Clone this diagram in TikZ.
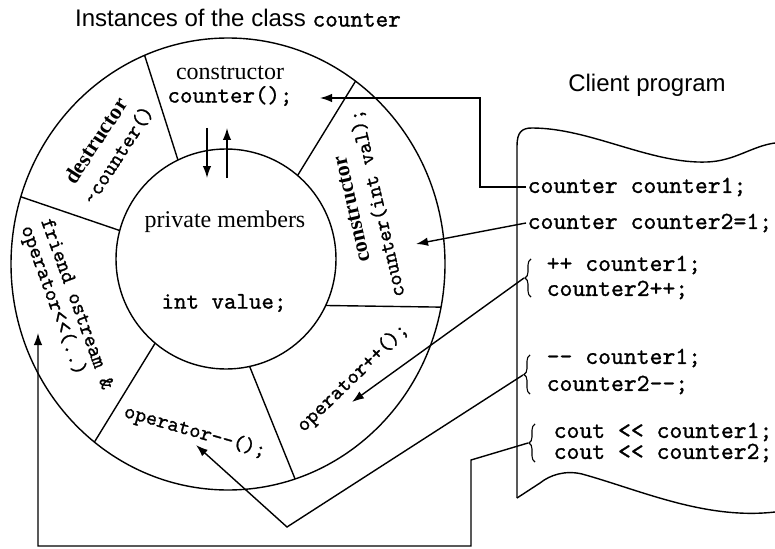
\documentclass[tikz,border=0pt]{standalone}
\usepackage{fontspec}
\setmainfont{Liberation Serif}
\setsansfont{Liberation Sans}
\setmonofont{lmmono10-regular.otf}[FakeBold=1]
\usetikzlibrary{arrows.meta,calc,decorations.pathreplacing}

\begin{document}
\begin{tikzpicture}[x=1pt,y=-1pt,
  line width=1.4pt,
  arr/.style={-{Latex[length=12pt,width=8.5pt]}},
  ring/.style={font=\fontsize{21.5}{21}\selectfont\ttfamily, inner sep=1pt},
  inmono/.style={font=\fontsize{23.8}{26}\selectfont\ttfamily, inner sep=1pt},
  code/.style={font=\fontsize{24.5}{26}\selectfont\ttfamily, inner sep=1pt, anchor=west},
  lbl/.style={font=\fontsize{24}{27}\selectfont\rmfamily, inner sep=1pt},
  head/.style={font=\fontsize{24}{27}\selectfont\sffamily, inner sep=1pt},
  cbrace/.style={decorate, decoration={brace, amplitude=6pt}, line width=1.1pt},
]
\useasboundingbox (0,0) rectangle (775,548);

% headings
\node[head] (title) at (238,18) {Instances of the class {\fontsize{24}{26}\selectfont\ttfamily counter}};
\node[head] (client) at (647,85) {Client program};

% the object: outer ring and inner core
\coordinate (oc) at (228,264);
\coordinate (ic) at (226,259);
\draw (oc) ellipse [x radius=217, y radius=226];
\draw (ic) circle [radius=110];

% spokes dividing the ring into member functions
\foreach \a/\t in {244.1/247.4, -49.4/-54, 25/11, 77.6/72, 130.1/128, 195/197.3}
  \draw ($(ic)+(\a:110)$) -- ($(oc)+(\t:217 and 226)$);

% ring labels
\node[lbl, align=center] (ctor) at (230,86)
  {constructor\\[-4pt]{\fontsize{23.8}{26}\selectfont\ttfamily counter();}};
\node[lbl, align=center, rotate=57] (dtor) at (107,148)
  {{\fontsize{22}{24}\selectfont\bfseries destructor}\\[-1pt]{\fontsize{21.5}{22}\selectfont\ttfamily\textasciitilde counter()}};
\node[lbl, align=center, rotate=103] (ctorb) at (366,206)
  {{\fontsize{22}{24}\selectfont\bfseries constructor}\\[-1pt]{\fontsize{21.5}{22}\selectfont\ttfamily counter(int val);}};
\node[ring, align=left, rotate=-70] (fr) at (66,308)
  {friend ostream \&\\operator<<(..)};
\node[ring, rotate=44] (inc) at (353,378) {operator++();};
\node[ring, rotate=-16] (dec) at (195,432) {operator-{}-();};

% core labels
\node[lbl] (priv) at (225,222) {private members};
\node[inmono] (val) at (224,303) {int value;};

% access to the private data
\coordinate (da1) at (207,128);
\coordinate (da2) at (207,178);
\coordinate (ua1) at (227,178);
\coordinate (ua2) at (227,128);
\draw[arr] (da1) -- (da2);
\draw[arr] (ua1) -- (ua2);

% client program sheet
\draw (517,498) -- (517,146)
  .. controls (517,132) and (522,128) .. (532,128)
  .. controls (590,128) and (650,164) .. (707,162)
  .. controls (735,161) and (752,146) .. (775,143);
\draw (517,498) -- (540,483)
  .. controls (550,475) and (565,470) .. (582,474)
  .. controls (640,490) and (705,520) .. (775,512);

% client code
\node[code] (c1) at (526,187) {counter counter1;};
\node[code] (c2) at (526,223) {counter counter2=1;};
\node[code] (c3a) at (545,265) {++ counter1;};
\node[code] (c3b) at (545,290) {counter2++;};
\node[code] (c4a) at (545,358) {-{}- counter1;};
\node[code] (c4b) at (545,385) {counter2-{}-;};
\node[code] (c5a) at (552,432) {cout << counter1;};
\node[code] (c5b) at (552,453) {cout << counter2;};

% braces grouping the statements
\draw[cbrace] (531,297) -- (531,259);
\draw[cbrace] (530,394) -- (530,355);
\draw[cbrace] (535,462) -- (535,424);
\coordinate (br1) at (524,278);
\coordinate (br2) at (523,375);
\coordinate (br3) at (528,443);

% calls from the client into the object
\coordinate (t1) at (320,98);
\coordinate (b1) at (480,98);
\draw[arr] (c1.west) -| (b1) -- (t1);

\coordinate (t2) at (416,244);
\draw[arr] (c2.west) -- (t2);

\coordinate (t3) at (352,402);
\draw[arr] (br1) -- (t3);

\coordinate (b4) at (287,527);
\coordinate (t4) at (196,445);
\draw[arr] (br2) -- (b4) -- (t4);

\coordinate (b5) at (471,460);
\coordinate (b5b) at (38,546);
\coordinate (t5) at (38,333);
\draw[arr] (br3) -- (b5) |- (b5b) -- (t5);
\end{tikzpicture}
\end{document}
